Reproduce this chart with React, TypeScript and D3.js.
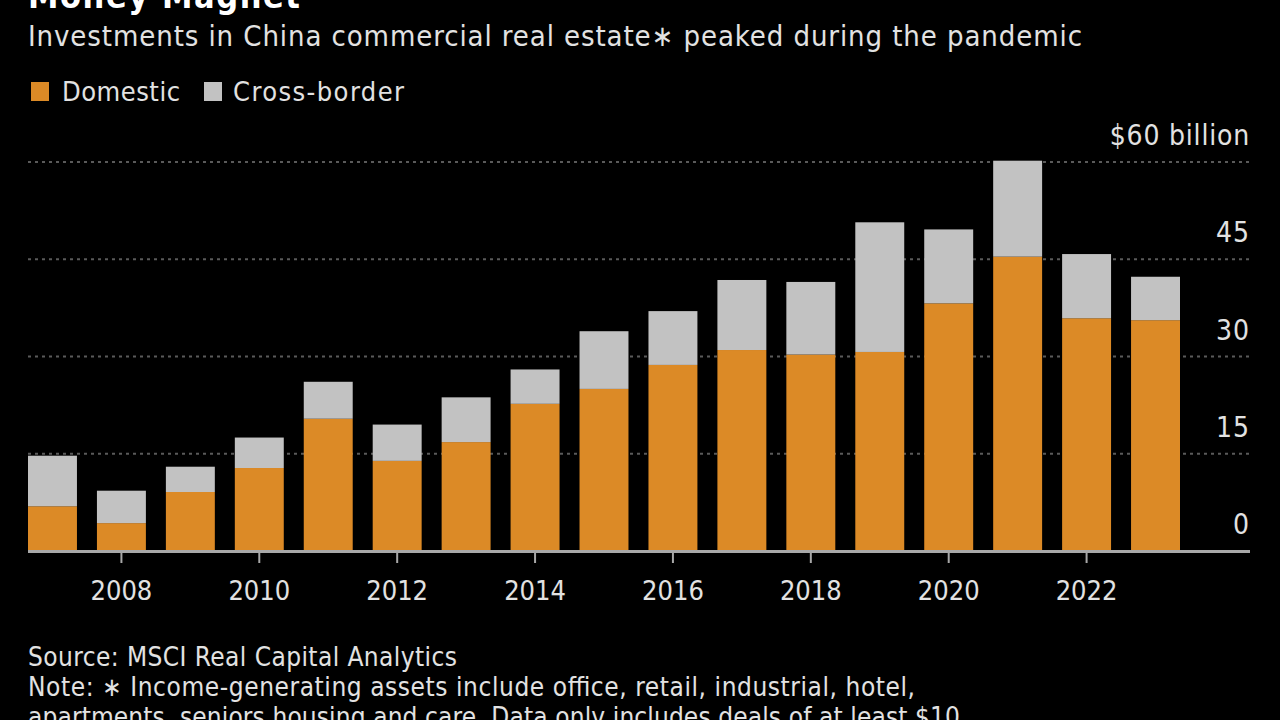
import React from "react";
import * as d3 from "d3";

const years = ["2007","2008","2009","2010","2011","2012","2013","2014","2015","2016","2017","2018","2019","2020","2021","2022","2023"];
const domestic = [6.9, 4.3, 9.1, 12.8, 20.4, 13.9, 16.8, 22.7, 25.0, 28.7, 31.0, 30.3, 30.7, 38.2, 45.4, 35.9, 35.6];
const crossBorder = [7.8, 5.0, 3.9, 4.7, 5.7, 5.6, 6.9, 5.3, 8.9, 8.3, 10.8, 11.2, 20.0, 11.4, 14.8, 9.9, 6.7];
const yTicks = [0, 15, 30, 45, 60];
const xTickYears = ["2008","2010","2012","2014","2016","2018","2020","2022"];

const W = 1280, H = 720;
const FONT = "'DejaVu Sans Condensed', 'DejaVu Sans', sans-serif";
const TEXT = "#e2e2e2";
const ORANGE = "#dc8a26";
const GREY = "#c2c2c2";

export default function App() {
  const x = d3.scaleBand<string>().domain(years).range([28, 1180]).paddingInner(0.29).paddingOuter(0);
  const y = d3.scaleLinear().domain([0, 60]).range([551, 162]);
  const rows = years.map((yr, i) => ({ year: yr, domestic: domestic[i], cross: crossBorder[i] }));
  const stack = d3.stack<any>().keys(["domestic", "cross"])(rows);
  const colors = [ORANGE, GREY];

  return (
    <svg width={W} height={H} style={{ position: "fixed", left: 0, top: 0, background: "#000" }}>
      <rect x={0} y={0} width={W} height={H} fill="#000" />
      <text x={28} y={8} fill="#fff" fontFamily={FONT} fontWeight="bold" fontSize={34} textLength={272} lengthAdjust="spacing">Money Magnet</text>
      <text x={28} y={46} fill={TEXT} fontFamily={FONT} fontSize={29} textLength={1054} lengthAdjust="spacing">Investments in China commercial real estate∗ peaked during the pandemic</text>
      <rect x={31} y={82} width={18} height={19} fill={ORANGE} />
      <text x={62} y={101} fill={TEXT} fontFamily={FONT} fontSize={27} textLength={118} lengthAdjust="spacing">Domestic</text>
      <rect x={204} y={82} width={18} height={19} fill={GREY} />
      <text x={233} y={101} fill={TEXT} fontFamily={FONT} fontSize={27} textLength={171} lengthAdjust="spacing">Cross-border</text>

      {yTicks.filter(t => t > 0).map(t => (
        <line key={"g" + t} x1={28} x2={1250} y1={y(t)} y2={y(t)} stroke="#5a5a5a" strokeWidth={2} strokeDasharray="3,4" />
      ))}
      {yTicks.map(t => (
        <text key={"yl" + t} x={1250} y={y(t) - 17} textAnchor="end" fill={TEXT} fontFamily={FONT} fontSize={28} letterSpacing={t === 60 ? 0.8 : 1}>
          {t === 60 ? "$60 billion" : String(t)}
        </text>
      ))}

      {stack.map((s, si) => s.map((d, i) => (
        <rect key={si + "-" + i} x={x(years[i])} width={x.bandwidth()} y={y(d[1])} height={y(d[0]) - y(d[1])} fill={colors[si]} />
      )))}

      <line x1={28} x2={1250} y1={551.5} y2={551.5} stroke="#a8a8a8" strokeWidth={3} />
      {xTickYears.map(yr => {
        const cx = (x(yr) as number) + x.bandwidth() / 2;
        return (
          <g key={"xt" + yr}>
            <line x1={cx} x2={cx} y1={552} y2={563} stroke="#a8a8a8" strokeWidth={2} />
            <text x={cx} y={600} textAnchor="middle" fill={TEXT} fontFamily={FONT} fontSize={27}>{yr}</text>
          </g>
        );
      })}

      <text x={28} y={666} fill={TEXT} fontFamily={FONT} fontSize={26} textLength={429} lengthAdjust="spacing">Source: MSCI Real Capital Analytics</text>
      <text x={28} y={696} fill={TEXT} fontFamily={FONT} fontSize={26} textLength={887} lengthAdjust="spacing">Note: ∗ Income-generating assets include office, retail, industrial, hotel,</text>
      <text x={28} y={726} fill={TEXT} fontFamily={FONT} fontSize={26} textLength={932} lengthAdjust="spacing">apartments, seniors housing and care. Data only includes deals of at least $10</text>
    </svg>
  );
}
